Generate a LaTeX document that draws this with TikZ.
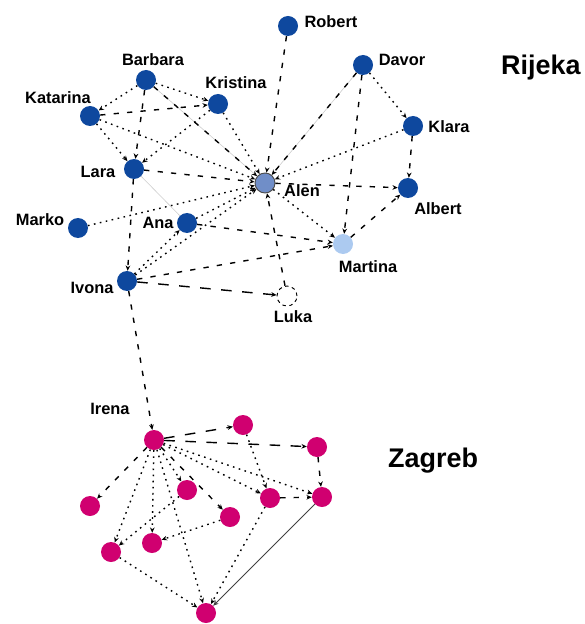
\documentclass[tikz,border=0pt]{standalone}
\usepackage{fontspec}
\setmainfont{Liberation Sans}
\usetikzlibrary{arrows.meta}

\definecolor{rijekablue}{RGB}{14,72,158}
\definecolor{alenblue}{RGB}{112,142,200}
\definecolor{martinablue}{RGB}{172,202,240}
\definecolor{zagrebpink}{RGB}{208,0,112}

\tikzset{
  % people
  person/.style    = { circle, fill=rijekablue, minimum size=0.6cm, inner sep=0 },
  zgperson/.style  = { person, fill=zagrebpink },
  namelabel/.style = { font=\fontsize{14}{16}\selectfont\bfseries, inner sep=0 },
  citylabel/.style = { font=\fontsize{23}{26}\selectfont\bfseries, inner sep=0, anchor=west },
  % ties
  dotlink/.style   = { line width=1.2pt, dash pattern=on 1.4pt off 3.8pt,
                       -{Stealth[length=1.6mm,width=1.4mm]} },
  dashlink/.style  = { line width=1.2pt, dash pattern=on 4.5pt off 7pt,
                       -{Stealth[length=1.6mm,width=1.4mm]} },
  longlink/.style  = { line width=1.2pt, dash pattern=on 9pt off 9pt,
                       -{Stealth[length=1.6mm,width=1.4mm]} },
  faintlink/.style = { gray!40, line width=0.5pt },
  thinlink/.style  = { black!75, line width=0.7pt, -{Stealth[length=1.6mm,width=1.4mm]} }
}

\begin{document}
\begin{tikzpicture}[x=0.03cm, y=-0.03cm]
  \useasboundingbox (0,0) rectangle (584,624);

  % --- Rijeka ---------------------------------------------------------
  \node[person] (Robert)   at (288,26)  {};
  \node[person] (Barbara)  at (146,80)  {};
  \node[person] (Kristina) at (218,104) {};
  \node[person] (Katarina) at (90,116)  {};
  \node[person] (Davor)    at (363,65)  {};
  \node[person] (Klara)    at (413,126) {};
  \node[person] (Lara)     at (134,169) {};
  \node[person, fill=alenblue, draw=black!70, thick] (Alen) at (265,183) {};
  \node[person] (Albert)   at (408,188) {};
  \node[person] (Marko)    at (78,228)  {};
  \node[person] (Ana)      at (187,223) {};
  \node[person, fill=martinablue] (Martina) at (343,244) {};
  \node[person] (Ivona)    at (127,281) {};
  \node[person, fill=white, draw=black, thick, dashed] (Luka) at (287,296) {};

  \node[namelabel] (tRobert)   at (331,22)  {Robert};
  \node[namelabel] (tBarbara)  at (153,60)  {Barbara};
  \node[namelabel] (tKristina) at (236,83)  {Kristina};
  \node[namelabel] (tKatarina) at (58,98)   {Katarina};
  \node[namelabel] (tDavor)    at (402,60)  {Davor};
  \node[namelabel] (tKlara)    at (449,127) {Klara};
  \node[namelabel] (tLara)     at (98,172)  {Lara};
  \node[namelabel] (tAlen)     at (302,191) {Alen};
  \node[namelabel] (tAlbert)   at (438,209) {Albert};
  \node[namelabel] (tMarko)    at (40,220)  {Marko};
  \node[namelabel] (tAna)      at (158,223) {Ana};
  \node[namelabel] (tIvona)    at (92,288)  {Ivona};
  \node[namelabel] (tMartina)  at (368,267) {Martina};
  \node[namelabel] (tLuka)     at (293,317) {Luka};

  \node[citylabel] (rijeka) at (501,68) {Rijeka};

  \draw[faintlink] (Lara) -- (Ana);
  \draw[faintlink] (Barbara) -- (Alen);
  \draw[faintlink] (Alen) -- (Davor);

  \foreach \a/\b in {Barbara/Kristina, Barbara/Katarina, Katarina/Lara, Katarina/Alen,
                     Kristina/Lara, Kristina/Alen, Marko/Alen, Ana/Alen, Ivona/Ana,
                     Ivona/Alen, Alen/Martina, Klara/Alen, Davor/Klara}
    \draw[dotlink] (\a) -- (\b);

  \foreach \a/\b in {Robert/Alen, Barbara/Lara, Barbara/Alen, Katarina/Kristina, Lara/Alen,
                     Lara/Ivona, Ana/Martina, Ivona/Martina, Luka/Alen, Davor/Alen,
                     Alen/Albert, Davor/Martina, Klara/Albert, Martina/Albert}
    \draw[dashlink] (\a) -- (\b);

  \draw[longlink] (Ivona) -- (Luka);

  % --- Zagreb ---------------------------------------------------------
  \node[zgperson] (Irena) at (154,440) {};
  \node[zgperson] (zg1)   at (243,425) {};
  \node[zgperson] (zg2)   at (317,447) {};
  \node[zgperson] (zg3)   at (90,506)  {};
  \node[zgperson] (zg4)   at (187,490) {};
  \node[zgperson] (zg5)   at (270,498) {};
  \node[zgperson] (zg6)   at (322,497) {};
  \node[zgperson] (zg7)   at (230,517) {};
  \node[zgperson] (zg8)   at (111,552) {};
  \node[zgperson] (zg9)   at (152,543) {};
  \node[zgperson] (zg10)  at (206,613) {};

  \node[namelabel] (tIrena) at (110,409) {Irena};
  \node[citylabel] (zagreb) at (388,461) {Zagreb};

  \draw[dashlink] (Ivona) -- (Irena);

  \foreach \b in {zg1, zg2}
    \draw[longlink] (Irena) -- (\b);
  \foreach \b in {zg3, zg7}
    \draw[dashlink] (Irena) -- (\b);
  \foreach \b in {zg4, zg5, zg6, zg8, zg9, zg10}
    \draw[dotlink] (Irena) -- (\b);

  \foreach \a/\b in {zg1/zg5, zg4/zg8, zg7/zg9, zg8/zg10, zg5/zg10}
    \draw[dotlink] (\a) -- (\b);
  \foreach \a/\b in {zg2/zg6, zg5/zg6}
    \draw[dashlink] (\a) -- (\b);
  \draw[thinlink] (zg6) -- (zg10);

\end{tikzpicture}
\end{document}
